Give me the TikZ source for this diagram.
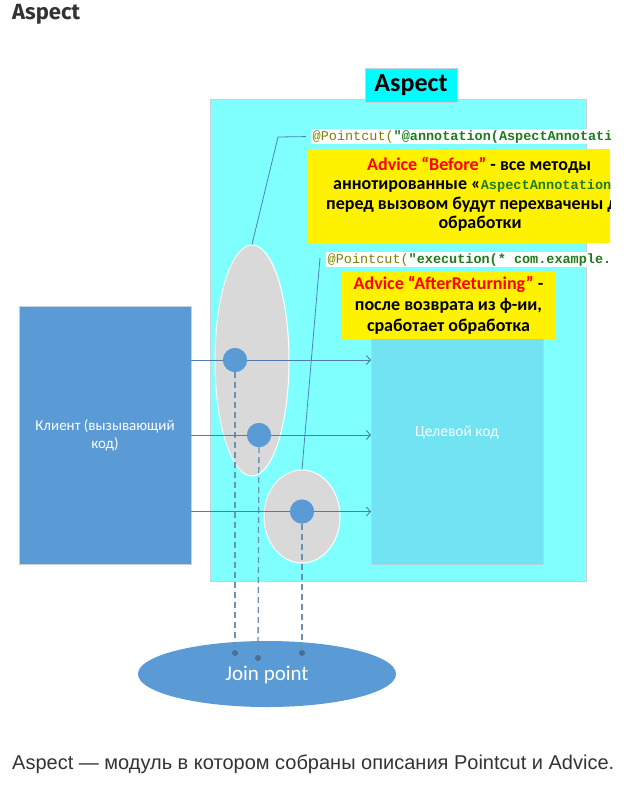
\documentclass[tikz,border=0pt]{standalone}
\usepackage{fontspec}
\setmainfont{Carlito}
\newfontfamily\monof{Liberation Mono}
\newfontfamily\arialf{Liberation Sans}
\newfontfamily\firaf{Fira Sans}
\usetikzlibrary{shapes.geometric,arrows.meta}
\definecolor{aspcyan}{HTML}{80FFFF}
\definecolor{labcyan}{HTML}{00FCFF}
\definecolor{clientblue}{HTML}{5B9BD5}
\definecolor{targetblue}{HTML}{72E3F2}
\definecolor{grayell}{HTML}{D9D9D9}
\definecolor{arrowc}{HTML}{4F7CAC}
\definecolor{dashc}{HTML}{6A92B8}
\definecolor{dotc}{HTML}{4A6F94}
\definecolor{olivec}{HTML}{808000}
\definecolor{codegreen}{HTML}{1E7B1E}
\definecolor{titlec}{HTML}{333333}
\definecolor{borderc}{HTML}{C8D0D8}
\definecolor{pcline}{HTML}{4F81BD}
\tikzset{
  box/.style={rectangle, inner sep=0, anchor=north west},
  grayoval/.style={ellipse, fill=grayell, draw=white, line width=1pt, inner sep=0},
  joinpt/.style={circle, fill=clientblue, inner sep=0, minimum size=24pt},
  flowarrow/.style={draw=arrowc, line width=0.9pt, -{Straight Barb[length=4pt,width=9pt]}},
  dashline/.style={draw=dashc, line width=1.3pt, dash pattern=on 6pt off 4pt},
  jdot/.style={circle, fill=dotc, inner sep=0, minimum size=6pt},
  pcl/.style={draw=pcline, line width=0.8pt},
  codetxt/.style={fill=white, inner sep=1.5pt, anchor=base west, font=\monof\fontsize{13.5}{15}\selectfont},
  ytxt/.style={inner sep=0, font=\bfseries\fontsize{18}{21}\selectfont},
  wtxt/.style={text=white, font=\fontsize{15}{18}\selectfont}
}
\begin{document}
\begin{tikzpicture}[x=1pt,y=-1pt]
\useasboundingbox[fill=white] (0,0) rectangle (625,788);

\node[anchor=base west, inner sep=0, text=titlec, font=\firaf\bfseries\fontsize{22}{26}\selectfont] (title) at (12,19.5) {Aspect};

\node[box, fill=aspcyan, draw=borderc, minimum width=376pt, minimum height=482pt] (aspect) at (210,99) {};
\node[rectangle, fill=labcyan, draw=borderc, minimum width=92pt, minimum height=34pt, inner sep=0, font=\bfseries\fontsize{26}{30}\selectfont] (aspectlabel) at (411,85) {Aspect};

\node[box, fill=targetblue, draw=borderc!70!targetblue, minimum width=172pt, minimum height=226pt] (target) at (371,338) {};
\node[text=white, font=\fontsize{15.5}{18}\selectfont] (targettext) at (457,433) {Целевой код};

\node[rectangle, fill=clientblue, draw=borderc, minimum width=172pt, minimum height=258pt, inner sep=0, wtxt, align=center] (client) at (105,435) {Клиент (вызывающий\\код)};

\node[grayoval, minimum width=74pt, minimum height=231pt] (ell1) at (252,360.5) {};
\node[grayoval, minimum width=76pt, minimum height=93pt] (ell2) at (302,516.5) {};

\node[ellipse, fill=clientblue, inner sep=0, minimum width=258pt, minimum height=66pt] (join) at (267,674) {};
\node[text=white, font=\fontsize{21}{25}\selectfont] (jointext) at (267,675) {Join point};

\node[jdot] (d1) at (235,653) {};
\node[jdot] (d2) at (258,658) {};
\node[jdot] (d3) at (302,653) {};

\node[joinpt] (c1) at (235,360) {};
\node[joinpt] (c2) at (259,435) {};
\node[joinpt] (c3) at (302,511.5) {};

\draw[dashline] (c1) -- (d1);
\draw[dashline] (c2) -- (d2);
\draw[dashline] (c3) -- (d3);

\draw[flowarrow] (c1 -| client.east) -- (c1 -| target.west);
\draw[flowarrow] (c2 -| client.east) -- (c2 -| target.west);
\draw[flowarrow] (c3 -| client.east) -- (c3 -| target.west);

\node[joinpt] at (c1) {};
\node[joinpt] at (c2) {};
\node[joinpt] at (c3) {};

\begin{scope}
\clip (0,0) rectangle (610,788);
\node[codetxt] (pc1) at (311,140) {\textcolor{olivec}{@Pointcut(}\textcolor{codegreen}{\bfseries"@annotation(AspectAnnotation.class)")}};
\node[box, fill=yellow, minimum width=346pt, minimum height=94pt] (y1) at (307,149) {};
\node[ytxt, anchor=base west] (y1a) at (367,170) {\textcolor{red}{Advice “Before”} - все методы};
\node[ytxt, anchor=base west] (y1b) at (333,189.5) {аннотированные «\textcolor{codegreen}{\monof\fontsize{13.6}{15}\selectfont AspectAnnotation}»};
\node[ytxt, anchor=base west] (y1c) at (326,209) {перед вызовом будут перехвачены для};
\node[ytxt, anchor=base] (y1d) at (480,228.5) {обработки};
\node[codetxt] (pc2) at (326,263) {\textcolor{olivec}{@Pointcut(}\textcolor{codegreen}{\bfseries"execution(* com.example.*.*(..))")}};
\end{scope}

\coordinate (k1) at (278,137);
\draw[pcl, shorten <=5pt] (pc1.west) -- (k1) -- (ell1.north);
\coordinate (k2) at (320,258);
\draw[pcl] (k2) -- (ell2.north);

\node[box, fill=yellow, minimum width=213pt, minimum height=68pt] (y2) at (342,271) {};
\node[ytxt, anchor=base] (y2a) at (448.5,289) {\textcolor{red}{Advice “AfterReturning”} -};
\node[ytxt, anchor=base] (y2b) at (448.5,310) {после возврата из ф-ии,};
\node[ytxt, anchor=base] (y2c) at (448.5,331) {сработает обработка};

\node[anchor=base west, inner sep=0, text=titlec, font=\arialf\fontsize{20}{24}\selectfont] (caption) at (12,769) {Aspect — модуль в котором собраны описания Pointcut и Advice.};
\end{tikzpicture}
\end{document}
